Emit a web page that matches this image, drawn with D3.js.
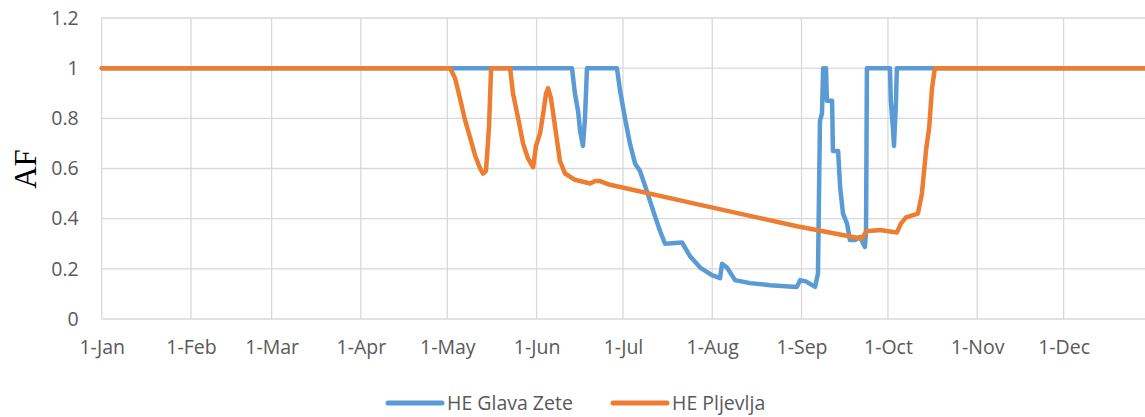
<!DOCTYPE html>
<html>
<head>
<meta charset="utf-8">
<script src="https://cdn.jsdelivr.net/npm/d3@7"></script>
<style>
  body { margin: 0; background: #fff; }
  text { font-family: "Open Sans", "Liberation Sans", sans-serif; fill: #595959; }
</style>
</head>
<body>
<svg></svg>
<script>
// day offsets from 1-Jan
const glavaDays = [0, 163.3, 164.3, 165.4, 166.1, 167.1, 167.8, 168.5, 178.9, 180, 181.7, 183.4, 185.2,
    186.9, 188.7, 190.4, 192.1, 193.9, 195.6, 201.5, 204.3, 207.8, 211.9, 214.7, 215.4, 217.1, 219.9,
    225.1, 232, 241.4, 242.5, 244.5, 247.7, 248.7, 249.4, 250.1, 250.5, 251.5, 251.8, 253.6, 253.9,
    255.7, 256.4, 257.4, 258.8, 259.8, 261.6, 263.3, 265, 265.4, 265.7, 273.7, 274, 274.7, 275.1,
    275.8, 276.1, 365];
const glavaVals = [1, 1, 0.9, 0.83, 0.75, 0.69, 0.8, 1, 1, 0.91, 0.8, 0.7, 0.62,
    0.59, 0.53, 0.47, 0.41, 0.35, 0.30, 0.305, 0.25, 0.205, 0.175, 0.163, 0.22, 0.205, 0.155,
    0.143, 0.135, 0.128, 0.155, 0.15, 0.128, 0.18, 0.79, 0.82, 1, 1, 0.87, 0.87, 0.67,
    0.67, 0.525, 0.42, 0.38, 0.315, 0.315, 0.327, 0.287, 0.35, 1, 1, 0.87, 0.765, 0.69,
    0.87, 1, 1];

const pljevljaDays = [0, 121, 122.7, 124.4, 126, 128, 129.7, 131.4, 132.4, 133.4, 133.8, 134.5, 135.2,
    141.8, 142.8, 144.6, 146.3, 148, 149.8, 150.8, 152.2, 153.3, 154.3, 155, 156, 157, 158, 159.1,
    160.9, 164.3, 169.6, 171.3, 173, 176.5, 207.8, 241.4, 264, 265.4, 270.2, 276.1, 277.5, 279.3,
    283.4, 284.8, 286.3, 287.3, 288.3, 289.3, 365];
const pljevljaVals = [1, 1, 0.96, 0.88, 0.8, 0.72, 0.65, 0.6, 0.58, 0.59, 0.65, 0.77, 1,
    1, 0.9, 0.8, 0.7, 0.64, 0.605, 0.69, 0.74, 0.82, 0.9, 0.92, 0.88, 0.8, 0.72, 0.63,
    0.58, 0.555, 0.54, 0.55, 0.55, 0.535, 0.455, 0.37, 0.32, 0.35, 0.355, 0.345, 0.38, 0.405,
    0.42, 0.5, 0.68, 0.76, 0.92, 1, 1];

const yTicks = [0, 0.2, 0.4, 0.6, 0.8, 1, 1.2];
const seriesNames = ['HE Glava Zete', 'HE Pljevlja'];
const colors = ['#5B9BD5', '#ED7D31'];

const W = 1145, H = 417;
const plot = {l: 101.7, t: 18, b: 319};
const start = new Date(Date.UTC(2019, 0, 1));
const end = new Date(Date.UTC(2020, 0, 1));

const svg = d3.select('svg').attr('width', W).attr('height', H);

const x = d3.scaleUtc().domain([start, end]).range([plot.l, plot.l + 365 * 2.88]);
const y = d3.scaleLinear().domain([0, 1.2]).range([plot.b, plot.t]);

// gridlines
const grid = svg.append('g');
grid.selectAll('line.h').data(yTicks).join('line')
    .attr('x1', plot.l).attr('x2', W)
    .attr('y1', d => y(d)).attr('y2', d => y(d))
    .attr('stroke', '#D9D9D9').attr('stroke-width', 1.3);
const months = d3.utcMonth.range(start, end);
grid.selectAll('line.v').data(months).join('line')
    .attr('x1', d => x(d)).attr('x2', d => x(d))
    .attr('y1', plot.t).attr('y2', plot.b)
    .attr('stroke', '#D9D9D9').attr('stroke-width', 1.3);

// axes
const axisY = d3.axisLeft(y).tickValues(yTicks).tickSize(0).tickPadding(23)
    .tickFormat(d => d3.format('')(+d.toFixed(1)));
svg.append('g').attr('transform', `translate(${plot.l},0)`).call(axisY)
    .call(g => g.select('.domain').remove())
    .selectAll('text').style('font-size', '19.5px').attr('fill', '#595959');

const axisX = d3.axisBottom(x).tickValues(months).tickSize(0).tickPadding(21)
    .tickFormat(d3.utcFormat('%-d-%b'));
svg.append('g').attr('transform', `translate(0,${plot.b})`).call(axisX)
    .call(g => g.select('.domain').remove())
    .selectAll('text').style('font-size', '19.5px').attr('fill', '#595959');

svg.append('text')
    .attr('transform', 'translate(36,169) rotate(-90)')
    .attr('text-anchor', 'middle')
    .style('font-family', '"Liberation Serif", "DejaVu Serif", serif')
    .style('font-size', '31px')
    .style('fill', '#000')
    .text('AF');

// lines
const line = d3.line()
    .x(d => x(start.getTime() + d[0] * 864e5))
    .y(d => y(d[1]));

const series = [
    d3.zip(glavaDays, glavaVals),
    d3.zip(pljevljaDays, pljevljaVals)
];

svg.append('g').selectAll('path').data(series).join('path')
    .attr('d', line)
    .attr('fill', 'none')
    .attr('stroke', (d, i) => colors[i])
    .attr('stroke-width', 4.5)
    .attr('stroke-linejoin', 'round')
    .attr('stroke-linecap', 'round');

// legend
const legend = svg.append('g');
const legendX = [388, 613];
seriesNames.forEach((name, i) => {
    legend.append('line')
        .attr('x1', legendX[i]).attr('x2', legendX[i] + 54)
        .attr('y1', 403).attr('y2', 403)
        .attr('stroke', colors[i]).attr('stroke-width', 5)
        .attr('stroke-linecap', 'round');
    legend.append('text')
        .attr('x', legendX[i] + 59).attr('y', 403)
        .attr('dy', '0.35em')
        .style('font-size', '19.5px')
        .text(name);
});
</script>
</body>
</html>
